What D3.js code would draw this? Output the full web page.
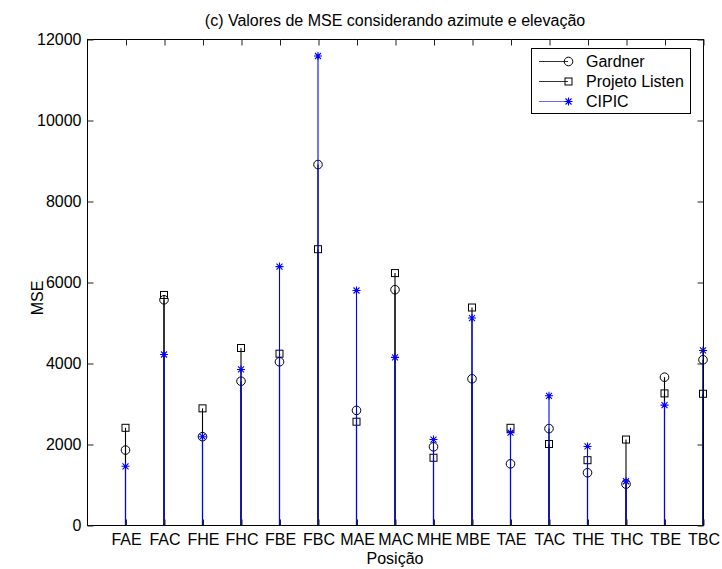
<!DOCTYPE html>
<html>
<head>
<meta charset="utf-8">
<script src="https://cdn.jsdelivr.net/npm/d3@7"></script>
<style>
  html, body { margin: 0; padding: 0; background: #fff; }
  text { font-family: "Liberation Sans", Arial, Helvetica, sans-serif; fill: #000; }
</style>
</head>
<body>
<svg id="chart" width="722" height="569"></svg>
<script>
// Positions (x categories)
const categories = ["FAE","FAC","FHE","FHC","FBE","FBC","MAE","MAC","MHE","MBE","TAE","TAC","THE","THC","TBE","TBC"];

// MSE per database
const gardner = [1850, 5560, 2180, 3550, 4030, 8900, 2830, 5810, 1930, 3610, 1510, 2380, 1290, 1010, 3650, 4080];
const listen  = [2400, 5680, 2880, 4370, 4230, 6810, 2550, 6220, 1660, 5370, 2400, 2000, 1600, 2110, 3250, 3240];
const cipic   = [1450, 4210, 2180, 3840, 6380, 11580, 5790, 4140, 2110, 5110, 2280, 3190, 1940, 1080, 2960, 4310];

const yTicks = [0, 2000, 4000, 6000, 8000, 10000, 12000];
const seriesNames = ["Gardner", "Projeto Listen", "CIPIC"];

const svg = d3.select("#chart");
const margin = { left: 87, right: 19, top: 39, bottom: 44 };
const W = 722, H = 569;

const x = d3.scaleLinear().domain([0, categories.length]).range([margin.left, W - margin.right]);
const y = d3.scaleLinear().domain([0, 12000]).range([H - margin.bottom, margin.top]);

const series = [
  { name: seriesNames[0], values: gardner, color: "#000", marker: "circle" },
  { name: seriesNames[1], values: listen,  color: "#000", marker: "square" },
  { name: seriesNames[2], values: cipic,   color: "#0000ff", marker: "star" }
];

function drawMarker(g, type, cx, cy, color) {
  if (type === "circle") {
    g.append("circle").attr("cx", cx).attr("cy", cy).attr("r", 4.3)
      .attr("fill", "none").attr("stroke", color).attr("stroke-width", 1);
  } else if (type === "square") {
    g.append("rect").attr("x", cx - 3.5).attr("y", cy - 3.5).attr("width", 7).attr("height", 7)
      .attr("fill", "none").attr("stroke", color).attr("stroke-width", 1);
  } else {
    const s = 4, d = 3;
    const p = `M${cx - s},${cy}L${cx + s},${cy}M${cx},${cy - s}L${cx},${cy + s}` +
              `M${cx - d},${cy - d}L${cx + d},${cy + d}M${cx - d},${cy + d}L${cx + d},${cy - d}`;
    g.append("path").attr("d", p).attr("fill", "none").attr("stroke", color).attr("stroke-width", 1.1);
  }
}

const plot = svg.append("g");

// Stems then markers, series in drawing order (CIPIC last, on top)
series.forEach(s => {
  const g = plot.append("g");
  g.selectAll("line").data(s.values).join("line")
    .attr("x1", (d, i) => x(i + 1))
    .attr("x2", (d, i) => x(i + 1))
    .attr("y1", y(0))
    .attr("y2", d => y(d))
    .attr("stroke", s.color)
    .attr("stroke-width", 1.1);
  s.values.forEach((v, i) => drawMarker(g, s.marker, x(i + 1), y(v), s.color));
});

// Axes box
const x0 = x(0), x1 = x(categories.length), yb = y(0), yt = y(12000);
svg.append("rect").attr("x", x0 + 0.5).attr("y", yt + 0.5)
  .attr("width", x1 - x0).attr("height", yb - yt)
  .attr("fill", "none").attr("stroke", "#000").attr("stroke-width", 1);

// Inward ticks on all four sides
const tickLen = 6;
const bottomAxis = d3.axisBottom(x).tickValues(d3.range(1, categories.length + 1))
  .tickSizeInner(-tickLen).tickSizeOuter(0).tickFormat((d) => categories[d - 1]).tickPadding(10);
const gx = svg.append("g").attr("transform", `translate(0.5,${yb + 0.5})`).call(bottomAxis);
gx.select(".domain").remove();
gx.selectAll("text").attr("font-size", 16).attr("dy", "0.71em").attr("y", 8);

const topAxis = d3.axisTop(x).tickValues(d3.range(1, categories.length + 1))
  .tickSizeInner(-tickLen).tickSizeOuter(0).tickFormat("");
const gxt = svg.append("g").attr("transform", `translate(0.5,${yt + 0.5})`).call(topAxis);
gxt.select(".domain").remove();

const leftAxis = d3.axisLeft(y).tickValues(yTicks).tickSizeInner(-tickLen).tickSizeOuter(0)
  .tickFormat(d3.format("d")).tickPadding(6);
const gy = svg.append("g").attr("transform", `translate(${x0 + 0.5},0.5)`).call(leftAxis);
gy.select(".domain").remove();
gy.selectAll("text").attr("font-size", 16).attr("x", -6);

const rightAxis = d3.axisRight(y).tickValues(yTicks).tickSizeInner(-tickLen).tickSizeOuter(0).tickFormat("");
const gyr = svg.append("g").attr("transform", `translate(${x1 + 0.5},0.5)`).call(rightAxis);
gyr.select(".domain").remove();

svg.selectAll(".tick line").attr("stroke", "#222");
svg.selectAll(".tick text").attr("font-family", "Liberation Sans, Arial, sans-serif").attr("fill", "#000");

// Title and axis labels
svg.append("text").attr("x", (x0 + x1) / 2).attr("y", 26).attr("text-anchor", "middle")
  .attr("font-size", 16).text("(c) Valores de MSE considerando azimute e elevação");
svg.append("text").attr("x", (x0 + x1) / 2).attr("y", 564).attr("text-anchor", "middle")
  .attr("font-size", 16).text("Posição");
svg.append("text").attr("transform", `translate(43,${(yt + yb) / 2 + 16}) rotate(-90)`)
  .attr("text-anchor", "middle").attr("font-size", 16).text("MSE");

// Legend
const lg = svg.append("g");
const lx = 531, ly = 48, lw = 159, lh = 65;
lg.append("rect").attr("x", lx + 0.5).attr("y", ly + 0.5).attr("width", lw).attr("height", lh)
  .attr("fill", "#fff").attr("stroke", "#000").attr("stroke-width", 1);
series.forEach((s, i) => {
  const ry = ly + 13 + i * 20;
  lg.append("line").attr("x1", lx + 8).attr("x2", lx + 37).attr("y1", ry + 0.5).attr("y2", ry + 0.5)
    .attr("stroke", s.color).attr("stroke-opacity", i === 2 ? 0.6 : 0.8);
  drawMarker(lg, s.marker, lx + 37.5, ry + 0.5, s.color);
  lg.append("text").attr("x", lx + 55).attr("y", ry).attr("dy", "0.35em")
    .attr("font-size", 16).text(s.name);
});
</script>
</body>
</html>
